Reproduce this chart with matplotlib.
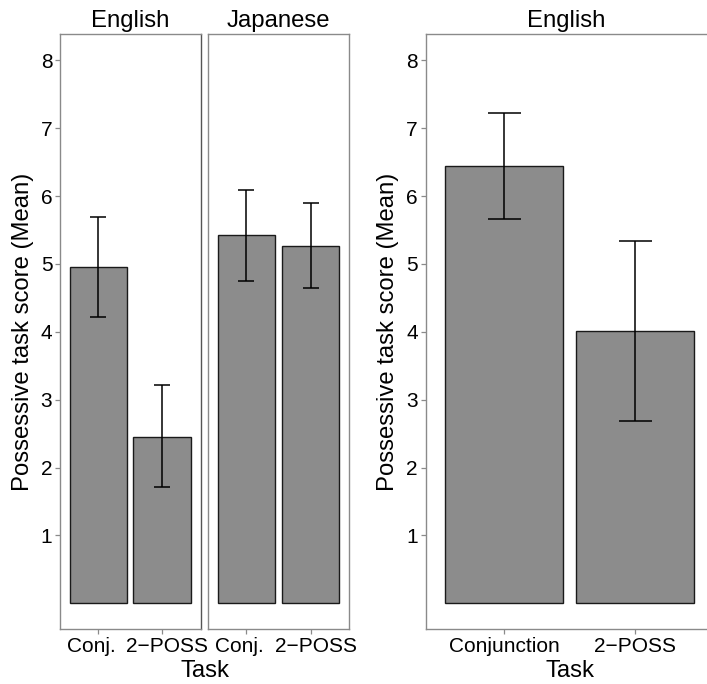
import matplotlib
matplotlib.use("Agg")
import matplotlib.pyplot as plt
from matplotlib.transforms import ScaledTranslation

plt.rcParams['font.family'] = ['Liberation Sans', 'DejaVu Sans']

# ---- data ----
left_tasks = ["Conj.", "2\u2212POSS"]
left_facets = ["English", "Japanese"]
left_means = {"English": [4.96, 2.45], "Japanese": [5.42, 5.27]}
left_lower = {"English": [4.22, 1.71], "Japanese": [4.75, 4.65]}
left_upper = {"English": [5.69, 3.21], "Japanese": [6.09, 5.90]}

right_title = "English"
right_tasks = ["Conjunction", "2\u2212POSS"]
right_means = [6.45, 4.01]
right_lower = [5.67, 2.68]
right_upper = [7.23, 5.34]

y_ticks = [1, 2, 3, 4, 5, 6, 7, 8]
y_label = "Possessive task score (Mean)"
x_label = "Task"

# ---- styling ----
W, H = 707, 684
fig = plt.figure(figsize=(W / 100, H / 100), dpi=100)
BAR_FILL = "#8c8c8c"
AX_GREY = "#8a8a8a"
YLIM = (-0.38, 8.39)
XLIM = (0.4, 2.6)
TICK_FS = 15
TITLE_FS = 17.2
LAB_FS = 17.2


def px_axes(x0, x1, y0, y1):
    return fig.add_axes([x0 / W, 1 - y1 / H, (x1 - x0) / W, (y1 - y0) / H])


def draw(ax, labels, means, lo, hi):
    xs = list(range(1, len(labels) + 1))
    ax.bar(xs, means, width=0.9, color=BAR_FILL, edgecolor="#1a1a1a",
           linewidth=1.0, zorder=2)
    ax.vlines(xs, lo, hi, color="black", linewidth=1.1, zorder=3)
    cw = 0.125
    for x, l, h in zip(xs, lo, hi):
        ax.hlines([l, h], x - cw, x + cw, color="black", linewidth=1.1, zorder=3)
    ax.set_xlim(*XLIM)
    ax.set_ylim(*YLIM)
    ax.set_xticks(xs)
    ax.set_xticklabels(labels, fontsize=TICK_FS)
    ax.tick_params(axis="both", colors=AX_GREY, length=3.5, width=0.9,
                   labelcolor="black", labelsize=TICK_FS, pad=2)
    for s in ax.spines.values():
        s.set_color(AX_GREY)
        s.set_linewidth(1.0)


# left faceted panels
ax_e = px_axes(60, 200.5, 34, 629)
ax_j = px_axes(208, 349, 34, 629)
label_shift_px = [-7, 5]
for ax, facet in zip([ax_e, ax_j], left_facets):
    draw(ax, left_tasks, left_means[facet], left_lower[facet], left_upper[facet])
    ax.set_title(facet, fontsize=TITLE_FS, pad=5)
    for lab, dx in zip(ax.get_xticklabels(), label_shift_px):
        lab.set_transform(lab.get_transform() +
                          ScaledTranslation(dx / 100, 0, fig.dpi_scale_trans))
ax_e.set_yticks(y_ticks)
ax_e.spines["right"].set_color("#555555")
ax_j.set_yticks([])
ax_e.set_ylabel(y_label, fontsize=LAB_FS, labelpad=5)
fig.text(205 / W, 1 - 677 / H, x_label, ha="center", va="baseline", fontsize=LAB_FS)

# right panel
ax_r = px_axes(425.5, 714, 34, 629)
draw(ax_r, right_tasks, right_means, right_lower, right_upper)
ax_r.set_yticks(y_ticks)
ax_r.spines["right"].set_visible(False)
ax_r.set_title(right_title, fontsize=TITLE_FS, pad=5, x=(566 - 425.5) / (714 - 425.5))
ax_r.set_ylabel(y_label, fontsize=LAB_FS, labelpad=5)
fig.text(570 / W, 1 - 677 / H, x_label, ha="center", va="baseline", fontsize=LAB_FS)

fig.savefig("out.png", dpi=100)
